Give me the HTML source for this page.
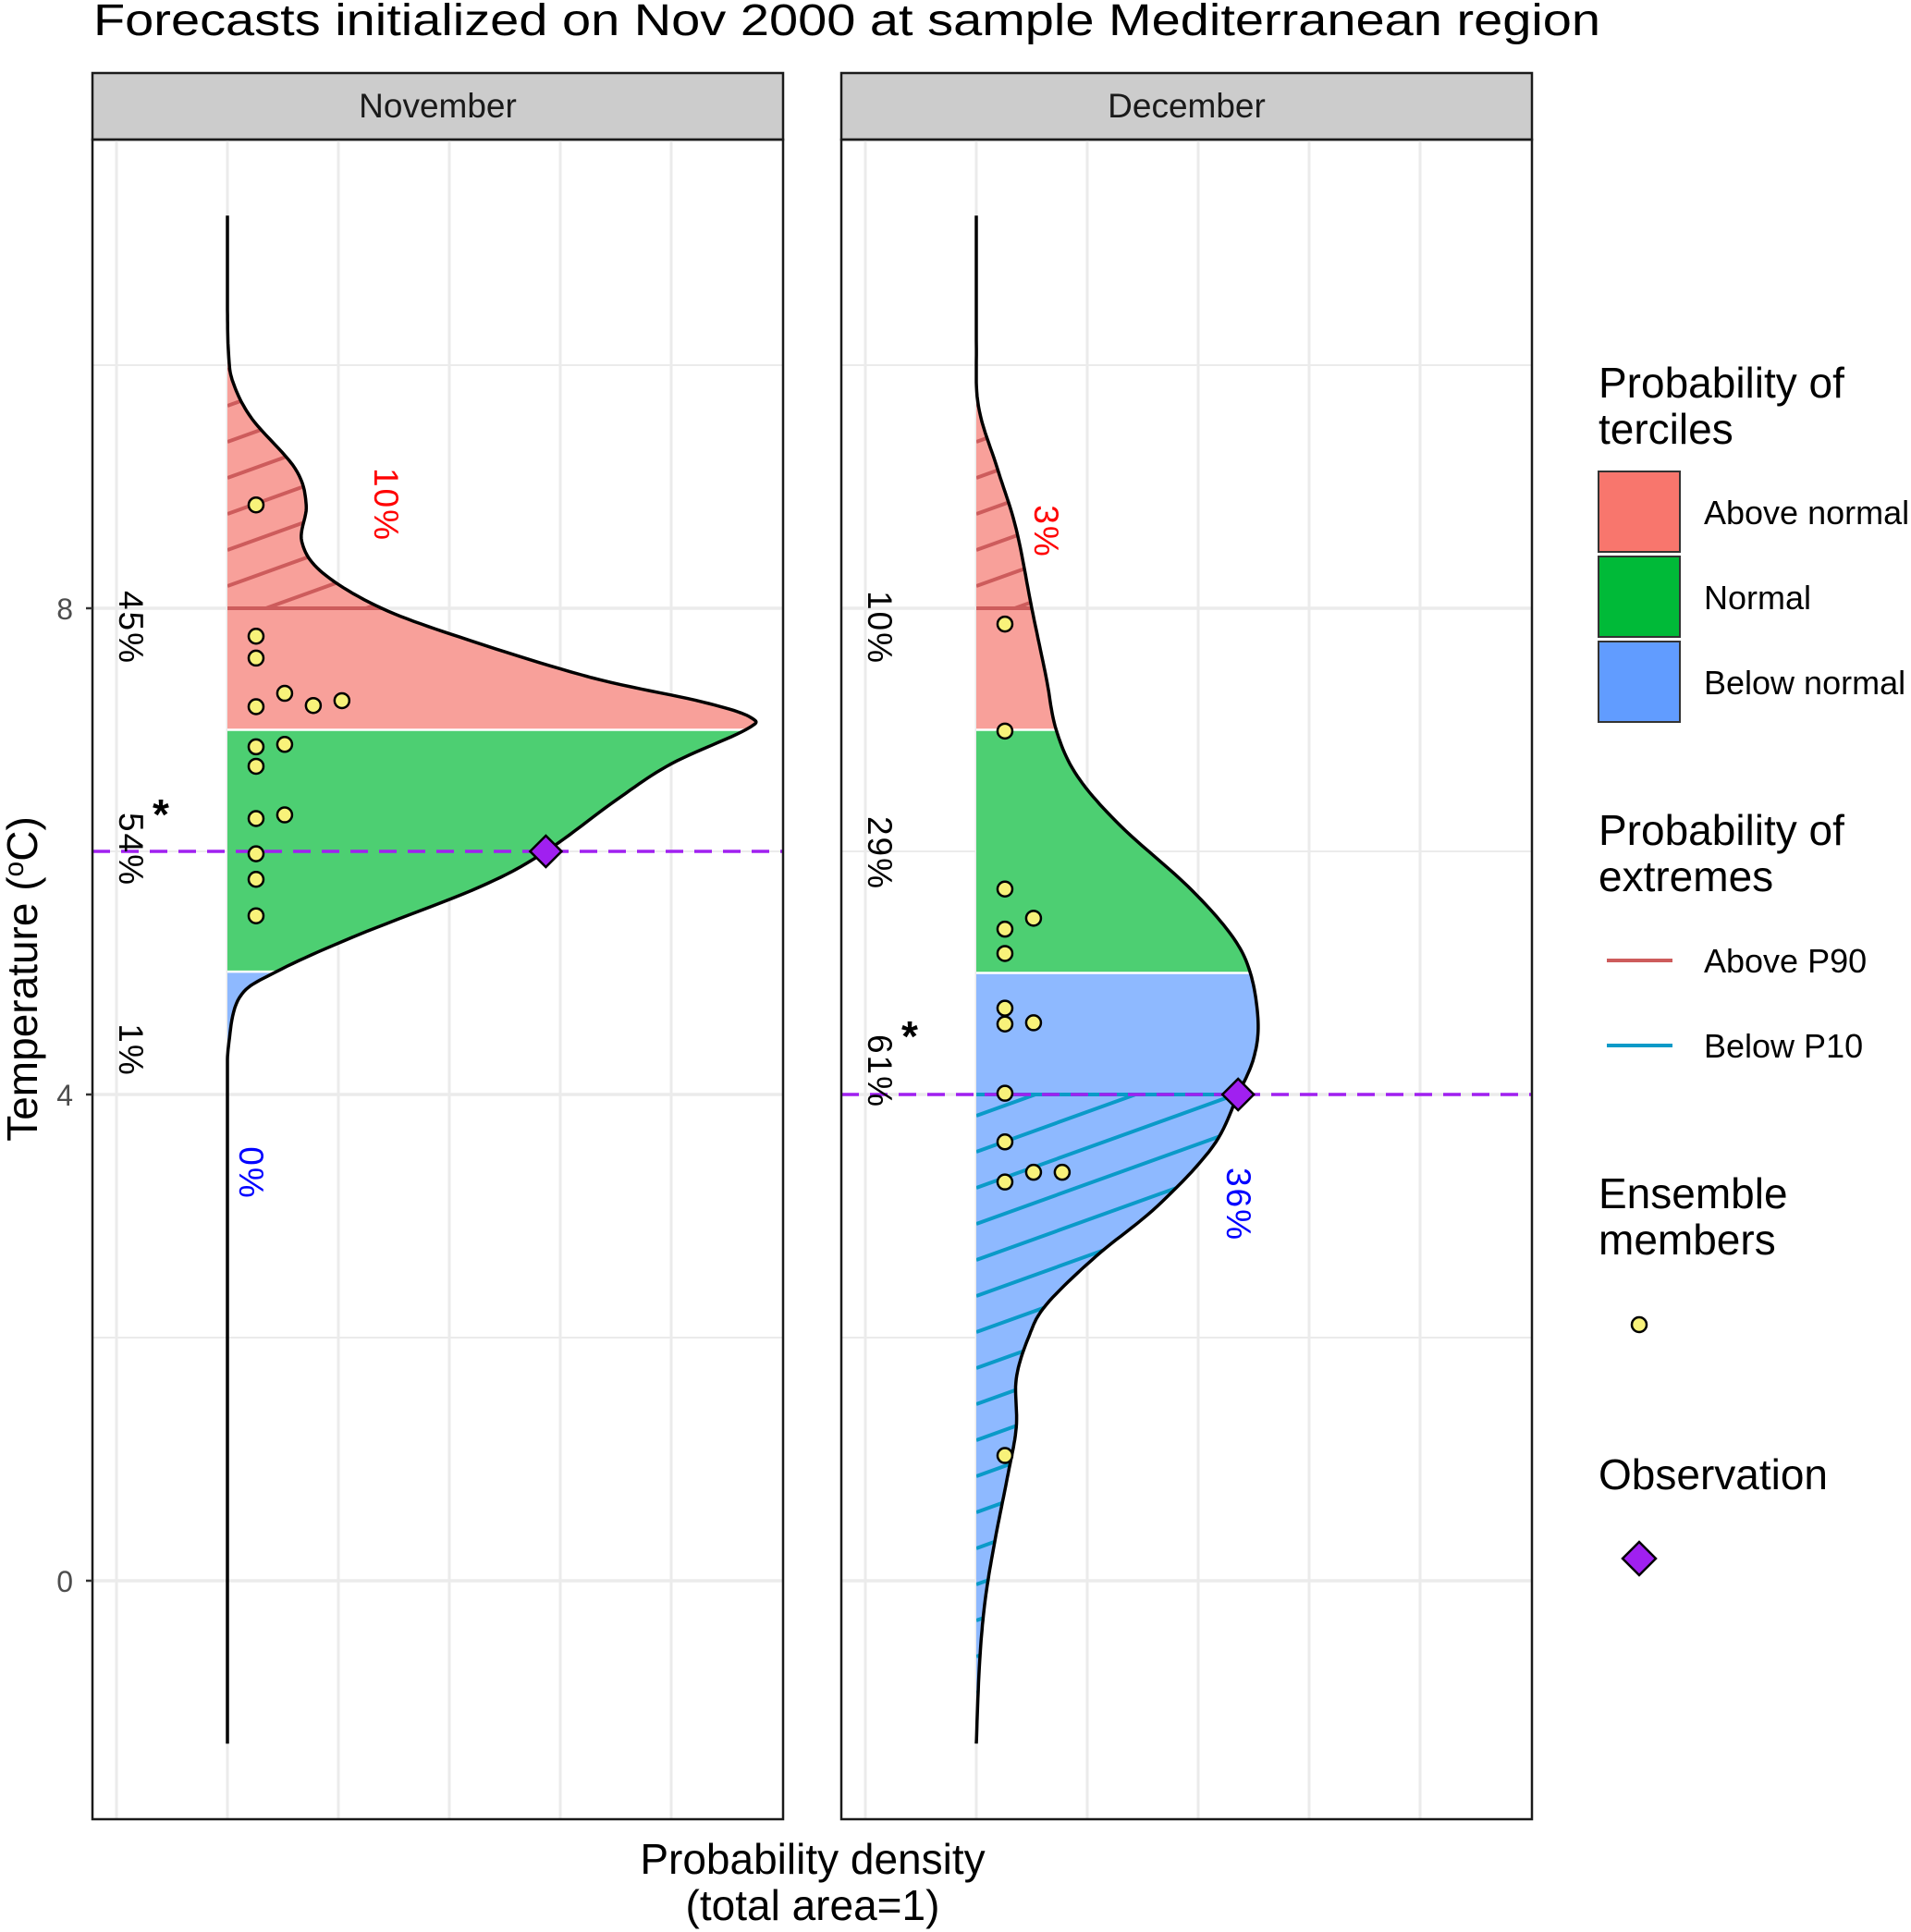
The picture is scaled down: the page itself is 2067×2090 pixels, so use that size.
<!DOCTYPE html>
<html><head><meta charset="utf-8"><style>
html,body{margin:0;padding:0;background:#fff;overflow:hidden;width:2067px;height:2090px;}
svg{display:block;font-family:"Liberation Sans",sans-serif;}
</style></head><body>
<svg id="c" width="2067" height="2090" viewBox="0 0 2067 2090"></svg>
<script>
// ---- data ----
const panels = ["November", "December"];
const novTemp = [11.23, 10.5, 10.1, 9.86, 9.56, 9.15, 8.85, 8.55, 8.29, 8.0, 7.74, 7.43, 7.23, 7.1, 7.0, 6.72, 6.42, 6.0, 5.71, 5.31, 5.01, 4.8, 4.4, 4.0, 3.0, -1.34];
const novDens = [0, 0, 0.01, 0.05, 0.22, 0.61, 0.71, 0.67, 0.86, 1.39, 2.17, 3.28, 4.28, 4.72, 4.67, 4.0, 3.5, 2.87, 2.28, 1.17, 0.44, 0.11, 0.01, 0, 0, 0];
const decTemp = [11.23, 10.2, 9.66, 9.15, 8.65, 8.0, 7.43, 7.0, 6.62, 6.21, 5.71, 5.31, 5.0, 4.6, 4.3, 4.0, 3.57, 3.08, 2.67, 2.27, 2.0, 1.66, 1.26, 0.85, 0.34, -0.16, -0.67, -1.34];
const decDens = [0, 0, 0.02, 0.19, 0.36, 0.5, 0.63, 0.72, 0.91, 1.3, 1.91, 2.3, 2.47, 2.54, 2.5, 2.36, 2.13, 1.63, 1.08, 0.63, 0.47, 0.36, 0.36, 0.28, 0.17, 0.08, 0.03, 0];
const tercileUpper = [7.0, 7.0];
const tercileLower = [5.01, 5.0];
const p90 = [8.0, 8.0];
const p10 = [4.0, 4.0];
const obsTemp = [6.0, 4.0];
const novMembers = [8.85, 7.77, 7.59, 7.19, 7.30, 7.2, 7.24, 6.86, 6.88, 6.70, 6.27, 6.30, 5.98, 5.77, 5.47];
const novStack = [0, 0, 0, 0, 1, 2, 3, 0, 1, 0, 0, 1, 0, 0, 0];
const decMembers = [7.87, 6.99, 5.69, 5.36, 5.45, 5.16, 4.71, 4.58, 4.59, 4.01, 3.61, 3.28, 3.36, 3.36, 1.03];
const decStack = [0, 0, 0, 0, 1, 0, 0, 0, 1, 0, 0, 0, 1, 2, 0];
const pctAboveNormal = ["45%", "10%"];
const pctNormal = ["54%", "29%"];
const pctBelowNormal = ["1%", "61%"];
const pctAboveP90 = ["10%", "3%"];
const pctBelowP10 = ["0%", "36%"];
const starTercile = [1, 2];
const yTicks = [0, 4, 8];
const yMinor = [2, 6, 10];
const xGrid = [-1, 0, 1, 2, 3, 4];

// ---- layout ----
const NS = "http://www.w3.org/2000/svg";
const svg = document.getElementById('c');
const panelLeft = [100, 910], panelW = 747;
const plotTop = 151, plotBot = 1968;
const zeroOff = 146, unitPx = 120;
function yS(t){ return 1710 - 131.5 * t; }
function xS(p, d){ return panelLeft[p] + zeroOff + d * unitPx; }
function mk(tag, attrs, parent){ const e = document.createElementNS(NS, tag); for (const k in attrs) e.setAttribute(k, attrs[k]); (parent||svg).appendChild(e); return e; }

function sample(T, D){
  const pts = [];
  for (let i = 0; i < T.length - 1; i++){
    const p0 = [T[Math.max(i-1,0)], D[Math.max(i-1,0)]], p1 = [T[i], D[i]], p2 = [T[i+1], D[i+1]], p3 = [T[Math.min(i+2,T.length-1)], D[Math.min(i+2,T.length-1)]];
    for (let s = 0; s < 12; s++){
      const u = s/12, u2 = u*u, u3 = u2*u;
      const f = (a,b,c,d)=>0.5*((2*b)+(-a+c)*u+(2*a-5*b+4*c-d)*u2+(-a+3*b-3*c+d)*u3);
      pts.push([f(p0[0],p1[0],p2[0],p3[0]), Math.max(0, f(p0[1],p1[1],p2[1],p3[1]))]);
    }
  }
  pts.push([T[T.length-1], D[D.length-1]]);
  return pts;
}

const title = mk('text', {x:101, y:38, 'font-size':48, fill:'#000', textLength:1630, lengthAdjust:'spacingAndGlyphs'});


title.textContent = 'Forecasts initialized on Nov 2000 at sample Mediterranean region';

const temps = [novTemp, decTemp], dens = [novDens, decDens];
const mems = [novMembers, decMembers], stacks = [novStack, decStack];

panels.forEach((name, p) => {
  const L = panelLeft[p];
  const g = mk('g', {});
  
  
  const strip = mk('rect', {x:L, y:79, width:panelW, height:72, fill:'#CCCCCC', stroke:'#1a1a1a', 'stroke-width':2.5}, g);
  
  
  const st = mk('text', {x:L+panelW/2, y:127, 'font-size':37, 'text-anchor':'middle', fill:'#1a1a1a'}, g);
  
  
  st.textContent = name;
  yMinor.forEach(t => { mk('line', {x1:L, x2:L+panelW, y1:yS(t), y2:yS(t), stroke:'#EBEBEB', 'stroke-width':2}, g); });
  yTicks.forEach(t => { mk('line', {x1:L, x2:L+panelW, y1:yS(t), y2:yS(t), stroke:'#EBEBEB', 'stroke-width':3.5}, g); });
  xGrid.forEach(d => { mk('line', {x1:xS(p,d), x2:xS(p,d), y1:plotTop, y2:plotBot, stroke:'#EBEBEB', 'stroke-width':3}, g); });

  const pts = sample(temps[p], dens[p]);
  let dstr = pts.map((q,i)=>(i?'L':'M')+xS(p,q[1]).toFixed(1)+','+yS(q[0]).toFixed(1)).join(' ');
  const clip = mk('clipPath', {id:'clip'+p}, g);
  mk('path', {d: dstr + ' L'+xS(p,0)+','+yS(temps[p][temps[p].length-1])+' L'+xS(p,0)+','+yS(temps[p][0])+' Z'}, clip);
  const regs = [[tercileUpper[p], 20, '#F8A09A', 'above-normal-area'], [tercileLower[p], tercileUpper[p], '#4DCF72', 'normal-area'], [-10, tercileLower[p], '#8EB9FF', 'below-normal-area']];
  regs.forEach(r => {
    const e = mk('rect', {x:xS(p,0), y:yS(r[1]), width:1200, height:yS(r[0])-yS(r[1]), fill:r[2], 'clip-path':'url(#clip'+p+')'}, g);
    
    
  });
  [tercileUpper[p], tercileLower[p]].forEach(t => mk('line', {x1:xS(p,0), x2:xS(p,6), y1:yS(t), y2:yS(t), stroke:'#fff', 'stroke-width':2.5, 'clip-path':'url(#clip'+p+')'}, g));
  function hatch(lo, hi, col, nm){
    const hg = mk('g', {'clip-path':'url(#clip'+p+')'}, g);
    
    
    const cp = mk('clipPath', {id:nm+p}, g);
    mk('rect', {x:xS(p,0), y:yS(hi), width:1000, height:yS(lo)-yS(hi)}, cp);
    const hh = mk('g', {'clip-path':'url(#'+nm+p+')'}, hg);
    for (let y0 = yS(lo) + 600; y0 > yS(hi) - 10; y0 -= 39){
      mk('line', {x1:xS(p,0), y1:y0, x2:xS(p,0)+1000, y2:y0-360, stroke:col, 'stroke-width':4}, hh);
    }
    const yl = (nm === 'p90-hatch') ? yS(lo) : yS(hi);
    mk('line', {x1:xS(p,0), x2:xS(p,6), y1:yl, y2:yl, stroke:col, 'stroke-width':4}, hg);
  }
  hatch(p90[p], 20, '#CD5C5C', 'p90-hatch');
  hatch(-10, p10[p], '#0A9AC8', 'p10-hatch');
  const curve = mk('path', {d:dstr, fill:'none', stroke:'#000', 'stroke-width':3.5}, g);
  
  

  const ol = mk('line', {x1:L, x2:L+panelW, y1:yS(obsTemp[p]), y2:yS(obsTemp[p]), stroke:'#A020F0', 'stroke-width':3.5, 'stroke-dasharray':'19,12'}, g);
  
  

  mems[p].forEach((t,i) => {
    const c = mk('circle', {cx:xS(p,(stacks[p][i]+1)*0.258), cy:yS(t), r:8, fill:'#F8F27A', stroke:'#000', 'stroke-width':2.5}, g);
    
    
  });
  let od = 0; for (let i=0;i<pts.length-1;i++){ const a=pts[i], b=pts[i+1]; if ((a[0]-obsTemp[p])*(b[0]-obsTemp[p])<=0){ const f=(obsTemp[p]-a[0])/((b[0]-a[0])||1); od=a[1]+f*(b[1]-a[1]); break; } }
  const ox = xS(p,od), oy = yS(obsTemp[p]);
  const dm = mk('path', {d:`M${ox},${oy-17} L${ox+17},${oy} L${ox},${oy+17} L${ox-17},${oy} Z`, fill:'#A020F0', stroke:'#000', 'stroke-width':2.5}, g);
  
  

  function lab(txt, x, yc, col, nm){
    const e = mk('text', {x:0, y:0, transform:`translate(${x},${yc}) rotate(90)`, 'font-size':37, 'letter-spacing':2, 'text-anchor':'middle', fill:col}, g);
    
    
    e.textContent = txt;
  }
  const lx = L + 29;
  const yAN = 679, yN = (p===0)?919:923, yBN = (p===0)?1136:1159;
  lab(pctAboveNormal[p], lx, yAN, '#000', 'pct-above-normal');
  lab(pctNormal[p], lx, yN, '#000', 'pct-normal');
  lab(pctBelowNormal[p], lx, yBN, '#000', 'pct-below-normal');
  lab(pctAboveP90[p], p===0?405:1119, p===0?546:575, '#FF0000', 'pct-above-p90');
  lab(pctBelowP10[p], p===0?259:1327, p===0?1269:1303, '#0000FF', 'pct-below-p10');
  const sy = [yAN, yN, yBN][starTercile[p]];
  const star = mk('text', {x:L+74, y:sy-22, 'font-size':46, 'font-weight':'bold', 'text-anchor':'middle', fill:'#000'}, g);
  
  
  star.textContent = '*';

  const b = mk('rect', {x:L, y:plotTop, width:panelW, height:plotBot-plotTop, fill:'none', stroke:'#1a1a1a', 'stroke-width':2.5}, g);
  
  
});

yTicks.forEach(t => {
  mk('line', {x1:93, x2:100, y1:yS(t), y2:yS(t), stroke:'#333', 'stroke-width':2.5});
  const e = mk('text', {x:79, y:yS(t)+12, 'font-size':32, 'text-anchor':'end', fill:'#4D4D4D'});
  
  
  e.textContent = t;
});
const yt = mk('text', {x:0, y:0, transform:'translate(40,1059) rotate(-90)', 'font-size':46, 'text-anchor':'middle', fill:'#000'});


yt.innerHTML = 'Temperature (<tspan font-size="30" dy="-15">o</tspan><tspan dy="15">C)</tspan>';
const xt = mk('text', {x:879, y:2027, 'font-size':46, 'text-anchor':'middle', fill:'#000'});


xt.innerHTML = '<tspan x="879">Probability density</tspan><tspan x="879" dy="50">(total area=1)</tspan>';

function ltext(txt, x, y, fs, nm){
  const e = mk('text', {x:x, y:y, 'font-size':fs, fill:'#000'});
  
  
  e.textContent = txt; return e;
}
ltext('Probability of', 1729, 430, 46, 'legend-title-terciles');
ltext('terciles', 1729, 480, 46, 'legend-title-terciles-2');
[['Above normal','#F8766D',510],['Normal','#00BA38',602],['Below normal','#619CFF',694]].forEach(r => {
  const k = mk('rect', {x:1729, y:r[2], width:88, height:87, fill:r[1], stroke:'#333', 'stroke-width':2});
  
  
  ltext(r[0], 1843, r[2]+57, 36, 'legend-entry');
});
ltext('Probability of', 1729, 914, 46, 'legend-title-extremes');
ltext('extremes', 1729, 964, 46, 'legend-title-extremes-2');
[['Above P90','#CD5C5C',1039],['Below P10','#0A9AC8',1131]].forEach(r => {
  const k = mk('line', {x1:1738, x2:1809, y1:r[2], y2:r[2], stroke:r[1], 'stroke-width':4});
  
  
  ltext(r[0], 1843, r[2]+13, 36, 'legend-entry');
});
ltext('Ensemble', 1729, 1307, 46, 'legend-title-ensemble');
ltext('members', 1729, 1357, 46, 'legend-title-ensemble-2');
const lc = mk('circle', {cx:1773, cy:1433, r:8, fill:'#F8F27A', stroke:'#000', 'stroke-width':2.5});


ltext('Observation', 1729, 1611, 46, 'legend-title-observation');
const ld = mk('path', {d:'M1773,1668 L1791,1686 L1773,1704 L1755,1686 Z', fill:'#A020F0', stroke:'#000', 'stroke-width':2.5});


</script>
</body></html>
